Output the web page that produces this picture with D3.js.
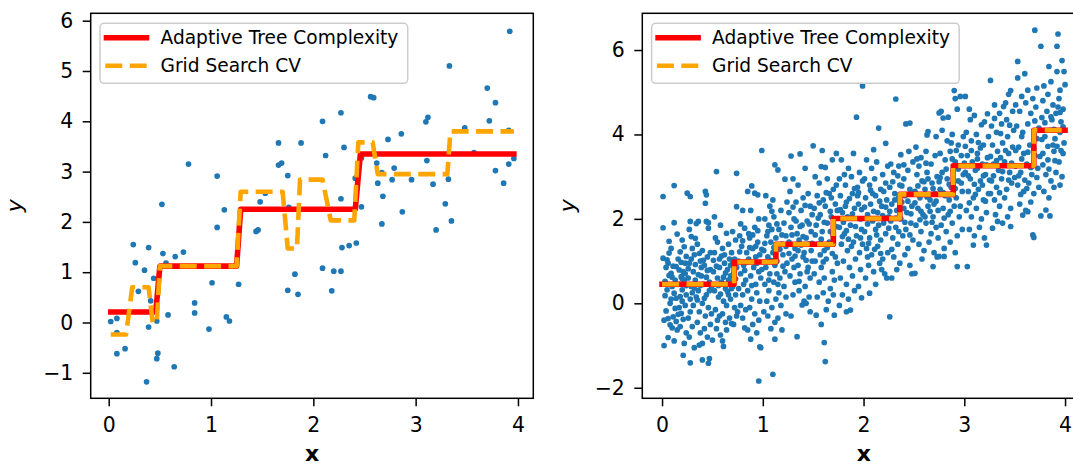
<!DOCTYPE html>
<html>
<head>
<meta charset="utf-8">
<script src="https://cdn.jsdelivr.net/npm/d3@7"></script>
<style>
  body { margin: 0; background: #fff; }
  text { font-family: "DejaVu Sans", sans-serif; }
</style>
</head>
<body>
<div id="box"></div>
<script>
'use strict';

// ---- data ----
var legendLabels = ["Adaptive Tree Complexity", "Grid Search CV"];

var leftXTicks = [0, 1, 2, 3, 4];
var leftYTicks = [-1, 0, 1, 2, 3, 4, 5, 6];
var rightXTicks = [0, 1, 2, 3, 4];
var rightYTicks = [-2, 0, 2, 4, 6];

var leftPoints = [
  [0.02,0.02],[0.08,0.08],[0.08,-0.20],[0.08,-0.62],[0.16,-0.52],[0.24,1.55],[0.26,1.19],[0.29,0.62],
  [0.35,1.04],[0.39,1.49],[0.39,-0.09],[0.37,-1.18],[0.41,0.43],[0.44,0.88],[0.47,0.03],[0.48,-0.61],
  [0.47,-0.72],[0.52,2.35],[0.53,1.37],[0.56,1.18],[0.58,0.15],[0.64,-0.88],[0.65,1.31],[0.73,1.40],
  [0.78,3.15],[0.84,0.39],[0.84,0.19],[0.98,-0.13],[1.01,0.79],[1.06,2.91],[1.06,1.89],[1.13,2.24],
  [1.15,0.11],[1.18,0.03],[1.27,0.76],[1.44,1.81],[1.46,1.84],[1.48,2.40],[1.53,2.57],[1.66,3.57],
  [1.66,3.13],[1.69,3.17],[1.75,2.92],[1.75,0.64],[1.76,2.29],[1.82,0.96],[1.85,0.56],[1.88,3.57],
  [2.09,4.00],[2.09,1.08],[2.12,3.32],[2.18,0.63],[2.20,1.02],[2.27,1.02],[2.27,4.17],[2.27,2.46],
  [2.28,1.49],[2.30,3.48],[2.35,1.53],[2.42,1.58],[2.41,2.87],[2.47,2.30],[2.47,3.27],[2.56,4.49],
  [2.59,4.47],[2.62,3.17],[2.63,2.77],[2.67,2.98],[2.68,2.51],[2.67,1.96],[2.73,3.64],[2.77,2.84],
  [2.79,3.07],[2.86,3.75],[2.87,2.20],[2.96,2.84],[3.10,3.99],[3.12,4.08],[3.11,3.22],[3.17,2.75],
  [3.20,1.84],[3.29,2.36],[3.32,2.85],[3.33,5.10],[3.35,2.02],[3.48,3.87],[3.57,3.38],[3.70,4.66],
  [3.72,4.01],[3.78,4.37],[3.78,3.02],[3.86,2.77],[3.91,3.82],[3.91,3.15],[3.92,5.79],[3.96,3.26]
];

var leftAdaptive = [
  [0.02,0.21],[0.46,0.21],[0.50,1.12],[1.25,1.12],[1.29,2.25],[2.41,2.25],[2.46,3.35],[3.96,3.35]
];
var leftGrid = [
  [0.02,-0.24],[0.17,-0.24],[0.23,0.70],[0.39,0.70],[0.43,0.0],[0.47,0.0],[0.50,1.12],[1.25,1.12],
  [1.29,2.60],[1.70,2.60],[1.75,1.47],[1.84,1.47],[1.87,2.84],[2.09,2.84],[2.17,2.03],[2.40,2.03],
  [2.44,3.58],[2.58,3.58],[2.63,2.95],[3.31,2.95],[3.34,3.80],[3.96,3.80]
];

var rightPoints = [
  // 0.00 - 0.25
  [0.01,2.53],[0.12,2.79],[0.01,1.79],[0.12,1.91],[0.15,1.64],[0.07,1.47],[0.20,1.50],[0.22,1.34],[0.01,1.07],
  [0.05,1.03],[0.07,1.19],[0.06,0.95],[0.09,0.71],[0.14,0.87],[0.17,0.79],[0.19,0.63],[0.21,0.75],[0.23,0.95],
  [0.24,1.11],[0.03,0.52],[0.05,0.32],[0.10,0.40],[0.12,0.24],[0.16,0.45],[0.18,0.16],[0.20,0.32],[0.22,0.55],
  [0.24,0.20],[0.08,0.0],[0.13,-0.12],[0.19,-0.24],[0.23,-0.05],[0.02,-0.40],[0.06,-0.36],[0.08,-0.51],[0.11,-0.32],
  [0.14,-0.43],[0.15,-0.63],[0.18,-0.55],[0.21,-0.38],[0.24,-0.70],[0.02,-1.00],[0.06,-0.81],[0.12,-0.89],[0.21,-1.23],
  [0.22,-0.95],[0.10,0.62],[0.16,1.05],[0.04,0.85],[0.09,0.10],[0.17,-0.10],[0.20,0.05],[0.13,0.55],[0.24,0.42],
  [0.03,0.18],[0.07,0.66],[0.11,0.88],[0.14,0.12],[0.19,0.97],[0.23,0.70],[0.04,-0.18],[0.10,-0.58],[0.16,-0.26],
  [0.20,0.58],[0.18,1.22],[0.09,1.30],
  // 0.25 - 0.50
  [0.25,2.61],[0.28,2.53],[0.43,2.65],[0.44,2.57],[0.43,2.37],[0.36,1.94],[0.44,1.94],[0.46,1.78],[0.28,1.94],
  [0.29,1.58],[0.33,1.54],[0.27,1.75],[0.34,1.89],[0.46,1.91],[0.30,1.30],[0.32,1.15],[0.35,1.40],[0.38,1.00],
  [0.40,1.25],[0.42,0.90],[0.45,1.10],[0.48,0.80],[0.27,0.95],[0.31,0.75],[0.26,0.60],[0.29,0.40],[0.33,0.55],
  [0.36,0.30],[0.39,0.65],[0.41,0.45],[0.44,0.20],[0.47,0.50],[0.49,0.35],[0.28,0.10],[0.31,-0.05],[0.34,0.15],
  [0.37,-0.20],[0.40,0.00],[0.43,-0.30],[0.46,-0.10],[0.49,-0.25],[0.26,-0.35],[0.30,-0.55],[0.35,-0.45],[0.38,-0.70],
  [0.42,-0.60],[0.45,-0.80],[0.48,-0.50],[0.28,-1.41],[0.40,-1.34],[0.46,-1.42],[0.47,-1.31],[0.37,-0.99],[0.40,-0.95],
  [0.32,-1.05],[0.27,-0.80],[0.39,0.85],[0.44,0.62],[0.30,0.25],
  [0.26,0.82],[0.29,1.05],[0.33,0.92],[0.36,0.68],[0.38,0.42],[0.41,1.02],[0.45,0.78],[0.47,0.30],[0.32,0.36],
  [0.35,0.08],[0.42,0.12],[0.48,1.20],[0.37,1.18],[0.28,-0.20],
  // 0.50 - 0.75
  [0.54,3.12],[0.74,3.08],[0.74,2.29],[0.52,2.05],[0.58,1.85],[0.64,1.66],[0.70,1.70],[0.73,1.50],[0.55,1.45],
  [0.60,1.30],[0.66,1.40],[0.69,1.20],[0.72,1.05],[0.52,1.20],[0.57,1.05],[0.62,0.95],[0.65,0.80],[0.68,0.90],
  [0.71,0.70],[0.74,0.85],[0.51,0.75],[0.55,0.60],[0.59,0.50],[0.63,0.35],[0.66,0.55],[0.70,0.40],[0.73,0.20],
  [0.52,0.30],[0.56,0.15],[0.61,0.05],[0.64,-0.05],[0.68,0.10],[0.72,-0.10],[0.53,-0.15],[0.57,-0.30],[0.60,-0.25],
  [0.63,-0.45],[0.67,-0.35],[0.71,-0.50],[0.74,-0.30],[0.54,-0.60],[0.58,-0.75],[0.60,-0.89],[0.64,-0.63],[0.69,-0.48],
  [0.55,-0.40],[0.62,1.15],[0.68,0.65],[0.57,0.85],[0.50,-0.87],[0.61,-1.02],[0.66,0.20],
  [0.51,1.02],[0.54,0.88],[0.59,1.12],[0.63,0.72],[0.67,1.05],[0.70,0.95],[0.73,0.58],[0.56,0.42],[0.61,0.62],
  [0.65,0.28],[0.69,0.35],[0.58,0.22],[0.53,1.55],
  // 0.75 - 1.00
  [0.99,3.62],[0.89,2.78],[0.85,2.65],[0.92,2.61],[0.95,2.57],[0.80,2.20],[0.88,2.20],[0.96,2.00],[0.82,1.78],
  [0.87,1.55],[0.92,1.80],[0.95,1.45],[0.77,1.60],[0.79,1.35],[0.84,1.20],[0.90,1.30],[0.97,1.15],[0.76,1.00],
  [0.81,0.90],[0.86,1.05],[0.91,0.85],[0.94,0.95],[0.99,0.80],[0.78,0.70],[0.83,0.55],[0.88,0.65],[0.93,0.45],
  [0.98,0.60],[0.76,0.35],[0.80,0.20],[0.85,0.30],[0.89,0.10],[0.94,0.25],[0.97,0.05],[0.78,-0.05],[0.83,-0.15],
  [0.87,-0.10],[0.92,-0.25],[0.96,-0.40],[0.80,-0.35],[0.85,-0.63],[0.82,-0.58],[0.90,-0.50],[0.94,-0.70],[0.97,-1.03],
  [0.98,-1.05],[0.96,-1.84],[0.88,-0.85],[0.75,-0.20],[0.86,1.65],[0.93,1.10],[0.81,0.45],
  [0.77,1.22],[0.80,1.48],[0.84,0.98],[0.87,1.32],[0.90,1.62],[0.93,1.35],[0.96,0.75],[0.99,1.28],[0.82,0.78],
  [0.89,0.42],[0.95,1.72],[0.78,1.88],
  // 1.00 - 1.25
  [1.12,3.28],[1.15,3.16],[1.22,2.94],[1.10,2.45],[1.03,2.55],[1.07,2.30],[1.18,2.20],[1.24,2.40],[1.02,2.00],
  [1.06,1.85],[1.11,2.05],[1.16,1.75],[1.21,1.90],[1.04,1.60],[1.08,1.45],[1.13,1.55],[1.19,1.40],[1.23,1.60],
  [1.01,1.25],[1.05,1.10],[1.10,1.20],[1.14,1.00],[1.20,1.15],[1.24,0.95],[1.03,0.85],[1.07,0.70],[1.12,0.90],
  [1.17,0.60],[1.22,0.75],[1.02,0.45],[1.06,0.30],[1.11,0.50],[1.16,0.25],[1.21,0.40],[1.04,0.05],[1.09,-0.10],
  [1.13,0.10],[1.18,-0.05],[1.23,0.15],[1.05,-0.30],[1.12,-0.45],[1.19,-0.63],[1.12,-0.85],[1.10,-1.68],[1.08,-0.60],
  [1.15,-0.35],[1.01,-0.20],[1.23,-0.25],[1.09,1.75],[1.14,0.70],
  [1.02,1.42],[1.05,1.70],[1.08,1.02],[1.11,1.32],[1.14,1.88],[1.17,1.28],[1.20,0.88],[1.23,1.35],[1.06,0.55],
  [1.15,0.45],[1.19,1.62],[1.09,2.18],
  // 1.25 - 1.50
  [1.28,3.49],[1.37,3.54],[1.50,3.73],[1.42,3.20],[1.30,2.95],[1.35,2.80],[1.45,2.60],[1.27,2.65],[1.33,2.40],
  [1.40,2.50],[1.47,2.30],[1.26,2.15],[1.31,2.00],[1.38,2.20],[1.44,1.95],[1.49,2.10],[1.28,1.80],[1.34,1.65],
  [1.39,1.85],[1.43,1.55],[1.48,1.70],[1.26,1.45],[1.32,1.30],[1.36,1.50],[1.41,1.20],[1.46,1.40],[1.29,1.05],
  [1.35,0.90],[1.40,1.10],[1.45,0.85],[1.49,1.00],[1.27,0.65],[1.32,0.50],[1.37,0.70],[1.42,0.40],[1.47,0.60],
  [1.30,0.20],[1.36,0.30],[1.41,0.05],[1.46,0.15],[1.39,-0.04],[1.43,0.00],[1.34,-0.79],[1.28,-0.30],[1.47,-0.20],
  [1.33,1.95],[1.38,1.38],[1.44,0.75],[1.31,0.85],[1.48,1.25],
  [1.26,1.18],[1.29,1.62],[1.32,1.12],[1.35,1.25],[1.37,1.82],[1.40,1.58],[1.43,1.02],[1.46,1.88],[1.49,1.42],
  [1.30,2.28],[1.42,2.32],[1.36,0.52],
  // 1.50 - 1.75
  [1.59,3.62],[1.58,3.24],[1.62,3.22],[1.69,3.40],[1.73,3.55],[1.52,3.00],[1.56,2.85],[1.64,2.95],[1.70,2.70],
  [1.54,2.55],[1.60,2.45],[1.66,2.60],[1.72,2.35],[1.51,2.25],[1.57,2.10],[1.62,2.30],[1.68,2.05],[1.74,2.20],
  [1.53,1.85],[1.59,1.70],[1.64,1.90],[1.70,1.60],[1.55,1.40],[1.61,1.25],[1.66,1.45],[1.72,1.10],[1.52,1.00],
  [1.58,0.85],[1.63,1.05],[1.69,0.75],[1.74,0.95],[1.56,0.50],[1.61,0.60],[1.67,0.35],[1.71,0.55],[1.54,0.15],
  [1.60,0.25],[1.65,0.05],[1.70,0.20],[1.53,-0.28],[1.63,-0.15],[1.71,-0.28],[1.61,-0.93],[1.62,-1.38],[1.58,-0.50],
  [1.67,1.70],[1.57,1.15],[1.73,2.80],[1.51,0.70],[1.68,2.50],
  [1.52,1.62],[1.55,2.02],[1.58,1.52],[1.61,1.92],[1.64,1.32],[1.67,2.18],[1.70,1.42],[1.73,1.82],[1.56,2.38],
  [1.63,2.62],[1.69,1.18],[1.60,0.98],
  // 1.75 - 2.00
  [1.93,4.41],[1.99,5.15],[1.78,3.40],[1.85,3.20],[1.90,3.55],[1.96,3.10],[1.76,2.95],[1.82,2.80],[1.88,3.00],
  [1.94,2.75],[1.99,2.90],[1.77,2.55],[1.83,2.40],[1.89,2.60],[1.95,2.35],[1.79,2.15],[1.84,2.05],[1.91,2.25],
  [1.97,2.00],[1.76,1.80],[1.81,1.65],[1.87,1.85],[1.93,1.60],[1.98,1.75],[1.78,1.40],[1.84,1.25],[1.90,1.45],
  [1.96,1.20],[1.80,1.00],[1.86,0.85],[1.92,1.05],[1.97,0.80],[1.77,0.60],[1.83,0.45],[1.89,0.65],[1.95,0.40],
  [1.79,0.20],[1.85,0.10],[1.91,0.30],[1.87,-0.16],[1.83,-0.20],[1.98,0.13],[1.76,-0.05],[1.94,2.55],[1.81,3.05],
  [1.88,1.35],[1.99,1.40],[1.82,2.30],
  [1.77,2.22],[1.80,1.92],[1.83,1.72],[1.86,2.48],[1.89,2.12],[1.92,1.82],[1.95,2.62],[1.98,2.22],[1.79,1.58],
  [1.85,1.52],[1.91,2.72],[1.97,1.55],
  // 2.00 - 2.25
  [2.15,4.15],[2.22,3.79],[2.10,3.64],[2.03,3.40],[2.08,3.20],[2.13,3.35],[2.19,3.05],[2.24,3.25],[2.01,2.95],
  [2.06,2.80],[2.11,2.95],[2.17,2.70],[2.22,2.85],[2.02,2.50],[2.07,2.35],[2.12,2.55],[2.18,2.30],[2.23,2.45],
  [2.04,2.10],[2.09,1.95],[2.14,2.15],[2.20,1.90],[2.25,2.05],[2.01,1.70],[2.06,1.55],[2.12,1.75],[2.17,1.50],
  [2.22,1.65],[2.03,1.30],[2.08,1.15],[2.14,1.35],[2.19,1.05],[2.24,1.20],[2.05,0.90],[2.10,0.75],[2.16,0.95],
  [2.21,0.70],[2.06,0.24],[2.12,0.45],[2.18,0.80],[2.23,0.60],[2.02,0.60],[2.09,2.60],[2.15,1.85],[2.20,2.65],
  [2.04,1.10],
  [2.01,2.28],[2.04,1.88],[2.07,2.68],[2.10,2.18],[2.13,1.62],[2.16,2.42],[2.19,2.08],[2.22,2.28],[2.25,1.78],
  [2.05,1.42],[2.11,1.28],[2.17,1.18],[2.23,2.02],
  // 2.25 - 2.50
  [2.32,4.84],[2.42,4.25],[2.46,4.27],[2.37,3.52],[2.27,3.30],[2.30,3.10],[2.35,3.25],[2.40,2.95],[2.44,3.15],
  [2.49,3.35],[2.26,2.75],[2.31,2.60],[2.36,2.80],[2.41,2.55],[2.46,2.70],[2.28,2.35],[2.33,2.20],[2.38,2.40],
  [2.43,2.15],[2.48,2.30],[2.27,1.95],[2.32,1.80],[2.37,2.00],[2.42,1.75],[2.47,1.90],[2.29,1.55],[2.34,1.40],
  [2.39,1.60],[2.44,1.30],[2.49,1.50],[2.30,1.10],[2.36,0.95],[2.41,1.15],[2.46,0.90],[2.26,-0.32],[2.33,0.80],
  [2.28,0.60],[2.45,3.60],[2.35,1.70],[2.40,2.25],[2.48,0.70],[2.31,2.45],
  [2.26,2.18],[2.29,2.88],[2.32,2.02],[2.35,2.52],[2.38,2.78],[2.41,1.92],[2.44,2.42],[2.47,2.12],[2.50,2.62],
  [2.34,3.02],[2.40,3.28],[2.46,1.62],[2.28,1.28],
  // 2.50 - 2.75
  [2.63,3.99],[2.64,4.07],[2.72,3.95],[2.75,4.51],[2.52,3.70],[2.57,3.45],[2.62,3.60],[2.67,3.30],[2.71,3.50],
  [2.53,3.05],[2.58,2.90],[2.63,3.10],[2.68,2.85],[2.73,3.00],[2.51,2.65],[2.56,2.50],[2.61,2.70],[2.66,2.45],
  [2.71,2.60],[2.54,2.25],[2.59,2.10],[2.64,2.30],[2.69,2.05],[2.74,2.20],[2.52,1.85],[2.57,1.70],[2.62,1.90],
  [2.67,1.65],[2.72,1.80],[2.55,1.40],[2.60,1.25],[2.65,1.45],[2.70,1.20],[2.51,0.71],[2.69,0.87],[2.73,1.10],
  [2.58,1.05],[2.64,2.95],[2.55,3.25],[2.70,2.35],[2.61,2.05],[2.74,1.55],
  [2.51,2.38],[2.54,2.78],[2.57,2.18],[2.60,2.88],[2.63,2.52],[2.66,2.18],[2.69,2.72],[2.72,2.42],[2.75,2.88],
  [2.56,1.98],[2.62,3.32],[2.68,1.92],[2.53,3.42],
  // 2.75 - 3.00
  [2.77,4.55],[2.79,4.39],[2.84,4.41],[2.90,5.04],[2.96,4.90],[2.91,4.85],[2.93,4.60],[2.78,4.10],[2.83,3.85],
  [2.88,4.00],[2.94,3.75],[2.99,3.95],[2.76,3.55],[2.81,3.40],[2.86,3.60],[2.91,3.35],[2.97,3.50],[2.78,3.10],
  [2.83,2.95],[2.89,3.15],[2.94,2.90],[2.99,3.05],[2.76,2.70],[2.81,2.55],[2.87,2.75],[2.92,2.50],[2.98,2.65],
  [2.79,2.25],[2.84,2.10],[2.90,2.30],[2.95,2.05],[2.77,1.85],[2.82,1.70],[2.88,1.90],[2.93,1.60],[2.98,1.75],
  [2.80,1.30],[2.86,1.45],[2.91,1.20],[2.75,1.11],[2.80,1.11],[2.93,0.87],[2.85,2.45],[2.96,2.30],[2.87,3.80],
  [2.76,2.98],[2.79,2.62],[2.82,3.18],[2.85,2.82],[2.88,3.42],[2.91,2.72],[2.94,3.18],[2.97,2.85],[3.00,3.32],
  [2.80,2.02],[2.86,2.18],[2.92,3.62],
  // 3.00 - 3.25
  [3.01,4.90],[3.05,4.60],[3.10,4.45],[3.17,4.23],[3.20,4.30],[3.23,4.49],[3.14,3.81],[3.02,4.05],[3.07,3.85],
  [3.12,4.00],[3.19,3.75],[3.24,3.95],[3.03,3.50],[3.08,3.35],[3.13,3.55],[3.18,3.30],[3.23,3.45],[3.01,3.10],
  [3.06,2.95],[3.11,3.15],[3.16,2.90],[3.21,3.05],[3.04,2.65],[3.09,2.50],[3.14,2.70],[3.19,2.45],[3.24,2.60],
  [3.02,2.20],[3.07,2.05],[3.12,2.25],[3.17,2.00],[3.22,2.15],[3.05,1.75],[3.10,1.60],[3.15,1.80],[3.20,1.55],
  [3.03,0.87],[3.09,1.38],[3.22,1.38],[3.13,3.20],[3.06,4.35],[3.18,2.80],
  [3.01,3.72],[3.04,3.02],[3.07,3.62],[3.10,2.82],[3.13,3.42],[3.16,3.68],[3.19,3.02],[3.22,3.28],[3.25,2.92],
  [3.05,2.38],[3.11,2.58],[3.21,2.42],
  // 3.25 - 3.50
  [3.26,5.28],[3.39,4.66],[3.46,5.04],[3.44,4.95],[3.30,4.70],[3.35,4.50],[3.42,4.35],[3.48,4.55],[3.27,4.20],
  [3.32,4.05],[3.37,4.25],[3.43,3.95],[3.49,4.10],[3.28,3.75],[3.33,3.60],[3.38,3.80],[3.44,3.55],[3.29,3.30],
  [3.34,3.15],[3.40,3.35],[3.45,3.10],[3.27,2.90],[3.32,2.75],[3.37,2.95],[3.42,2.70],[3.47,2.85],[3.30,2.45],
  [3.35,2.30],[3.40,2.50],[3.46,2.25],[3.28,1.78],[3.33,1.94],[3.38,1.90],[3.46,1.82],[3.31,2.10],[3.43,2.05],
  [3.36,3.45],[3.48,3.70],[3.26,2.60],[3.41,4.75],
  [3.26,3.48],[3.29,3.02],[3.32,3.38],[3.35,2.62],[3.38,3.12],[3.41,3.62],[3.44,2.92],[3.47,3.32],[3.50,2.98],
  [3.30,4.38],[3.36,4.02],[3.45,4.22],
  // 3.50 - 3.75
  [3.53,5.73],[3.53,5.34],[3.60,5.44],[3.70,6.47],[3.57,4.90],[3.63,5.05],[3.68,4.85],[3.72,5.10],[3.51,4.70],
  [3.55,4.55],[3.61,4.75],[3.66,4.50],[3.71,4.65],[3.52,4.20],[3.58,4.05],[3.63,4.25],[3.69,4.00],[3.74,4.15],
  [3.54,3.70],[3.59,3.55],[3.65,3.75],[3.70,3.50],[3.51,3.25],[3.56,3.10],[3.62,3.30],[3.67,3.05],[3.73,3.20],
  [3.53,2.80],[3.59,2.65],[3.64,2.85],[3.69,2.60],[3.55,2.35],[3.61,2.20],[3.58,2.09],[3.63,2.17],[3.68,1.62],
  [3.69,1.56],[3.66,2.40],[3.74,2.75],[3.57,3.95],[3.72,3.90],
  [3.51,3.62],[3.54,3.02],[3.57,3.42],[3.60,2.92],[3.63,3.58],[3.66,3.22],[3.69,3.68],[3.72,2.98],[3.75,3.48],
  [3.56,2.58],[3.62,2.72],[3.70,4.32],
  // 3.75 - 4.00
  [3.76,6.09],[3.92,6.09],[3.93,6.38],[3.84,5.61],[3.92,5.49],[3.99,5.49],[4.00,5.18],[3.79,5.15],[3.86,5.25],
  [3.95,5.05],[3.78,4.80],[3.83,4.95],[3.88,4.70],[3.94,4.85],[3.98,4.60],[3.77,4.40],[3.82,4.55],[3.87,4.35],
  [3.91,4.50],[3.96,4.30],[3.80,3.95],[3.85,4.10],[3.90,3.90],[3.95,4.05],[3.99,3.80],[3.78,3.55],[3.83,3.40],
  [3.89,3.60],[3.94,3.35],[3.98,3.55],[3.81,3.05],[3.86,2.90],[3.91,3.10],[3.97,3.00],[3.79,2.65],[3.84,2.50],
  [3.89,2.75],[3.95,2.80],[3.76,2.07],[3.85,2.07],[3.81,2.21],[3.88,3.75],[3.93,4.65],[3.97,5.75],
  [3.77,3.88],[3.80,4.28],[3.83,3.72],[3.86,4.42],[3.89,4.12],[3.92,3.72],[3.95,4.52],[3.98,4.18],[3.78,3.28],
  [3.84,3.18],[3.90,3.38],[3.96,3.62]
];

var rightAdaptive = [
  [0.0,0.45],[0.715,0.45],[0.715,0.98],[1.13,0.98],[1.13,1.40],[1.70,1.40],[1.70,2.01],[2.36,2.01],
  [2.36,2.58],[2.89,2.58],[2.89,3.26],[3.69,3.26],[3.69,4.10],[4.0,4.10]
];
var rightGrid = [
  [0.0,0.45],[0.715,0.45],[0.715,0.98],[1.13,0.98],[1.13,1.40],[1.70,1.40],[1.70,2.01],[2.36,2.01],
  [2.36,2.58],[2.89,2.58],[2.89,3.26],[3.69,3.26],[3.69,4.10],[4.0,4.10]
];

// ---- drawing ----
var svg = d3.select("#box")
  .append("svg")
    .attr("width", 1073)
    .attr("height", 466);

function drawPanel(id, frame, xDomain, yDomain, xTicks, yTicks, points, adaptive, grid, yLabelX, legendW) {
  var x = d3.scaleLinear().domain(xDomain).range([frame.left, frame.right]);
  var y = d3.scaleLinear().domain(yDomain).range([frame.bottom, frame.top]);

  svg.append("clipPath")
      .attr("id", "clip-" + id)
    .append("rect")
      .attr("x", frame.left)
      .attr("y", frame.top)
      .attr("width", frame.right - frame.left)
      .attr("height", frame.bottom - frame.top);

  var plot = svg.append("g").attr("clip-path", "url(#clip-" + id + ")");

  // scatter
  plot.selectAll("circle")
    .data(points)
    .enter()
    .append("circle")
      .attr("cx", function(d) { return x(d[0]); })
      .attr("cy", function(d) { return y(d[1]); })
      .attr("r", 2.85)
      .attr("fill", "#1f77b4");

  var line = d3.line()
    .x(function(d) { return x(d[0]); })
    .y(function(d) { return y(d[1]); });

  plot.append("path")
    .datum(adaptive)
    .attr("fill", "none")
    .attr("stroke", "#ff0000")
    .attr("stroke-width", 5.6)
    .attr("stroke-linejoin", "round")
    .attr("stroke-linecap", "square")
    .attr("d", line);

  plot.append("path")
    .datum(grid)
    .attr("fill", "none")
    .attr("stroke", "#ffa500")
    .attr("stroke-width", 4.6)
    .attr("stroke-dasharray", "17,7.4")
    .attr("stroke-linejoin", "round")
    .attr("d", line);

  // axes
  var xAxis = svg.append("g")
    .attr("transform", "translate(0," + frame.bottom + ")")
    .call(d3.axisBottom(x).tickValues(xTicks).tickSize(8).tickPadding(11).tickFormat(d3.format("d")));
  var yAxis = svg.append("g")
    .attr("transform", "translate(" + frame.left + ",0)")
    .call(d3.axisLeft(y).tickValues(yTicks).tickSize(8).tickPadding(9.5).tickFormat(d3.format("d")));
  [xAxis, yAxis].forEach(function(a) {
    a.select(".domain").remove();
    a.selectAll(".tick line").attr("stroke", "#000").attr("stroke-width", 1.5);
    a.selectAll(".tick text")
      .attr("fill", "#000")
      .style("font-family", "DejaVu Sans")
      .style("font-size", "20.4px");
  });

  svg.append("rect")
    .attr("x", frame.left)
    .attr("y", frame.top)
    .attr("width", frame.right - frame.left)
    .attr("height", frame.bottom - frame.top)
    .attr("fill", "none")
    .attr("stroke", "#000")
    .attr("stroke-width", 1.5);

  // axis labels
  svg.append("text")
    .attr("transform", "translate(" + yLabelX + "," + ((frame.top + frame.bottom) / 2) + ") rotate(-90)")
    .style("text-anchor", "middle")
    .style("font-size", "22px")
    .style("font-style", "italic")
    .text("y");
  svg.append("text")
    .attr("x", (frame.left + frame.right) / 2)
    .attr("y", 461)
    .style("text-anchor", "middle")
    .style("font-size", "22px")
    .style("font-weight", "bold")
    .text("x");

  // legend
  var lg = svg.append("g").attr("transform", "translate(" + (frame.left + 9.3) + ",23.3)");
  lg.append("rect")
    .attr("width", legendW)
    .attr("height", 60)
    .attr("rx", 4)
    .attr("fill", "#fff")
    .attr("fill-opacity", 0.8)
    .attr("stroke", "#cccccc")
    .attr("stroke-width", 1.5);
  lg.append("line")
    .attr("x1", 6.5).attr("x2", 46.5)
    .attr("y1", 14.4).attr("y2", 14.4)
    .attr("stroke", "#ff0000")
    .attr("stroke-width", 5.6)
    .attr("stroke-linecap", "square");
  lg.append("line")
    .attr("x1", 5.3).attr("x2", 47.5)
    .attr("y1", 42.4).attr("y2", 42.4)
    .attr("stroke", "#ffa500")
    .attr("stroke-width", 4.6)
    .attr("stroke-dasharray", "17,7.4");
  lg.selectAll("text.lab")
    .data(legendLabels)
    .enter()
    .append("text")
      .attr("class", "lab")
      .attr("x", 60.5)
      .attr("y", function(d, i) { return 20.8 + i * 27.8; })
      .style("font-size", "18.6px")
      .attr("fill", "#000")
      .text(function(d) { return d; });
}

drawPanel("left", { left: 90.7, right: 533.3, top: 13.3, bottom: 398.3 },
  [-0.176, 4.150], [-1.507, 6.147], leftXTicks, leftYTicks,
  leftPoints, leftAdaptive, leftGrid, 22, 307.7);

drawPanel("right", { left: 642.3, right: 1085.2, top: 13.3, bottom: 398.3 },
  [-0.196, 4.2], [-2.25, 6.87], rightXTicks, rightYTicks,
  rightPoints, rightAdaptive, rightGrid, 575, 307.6);
</script>
</body>
</html>
